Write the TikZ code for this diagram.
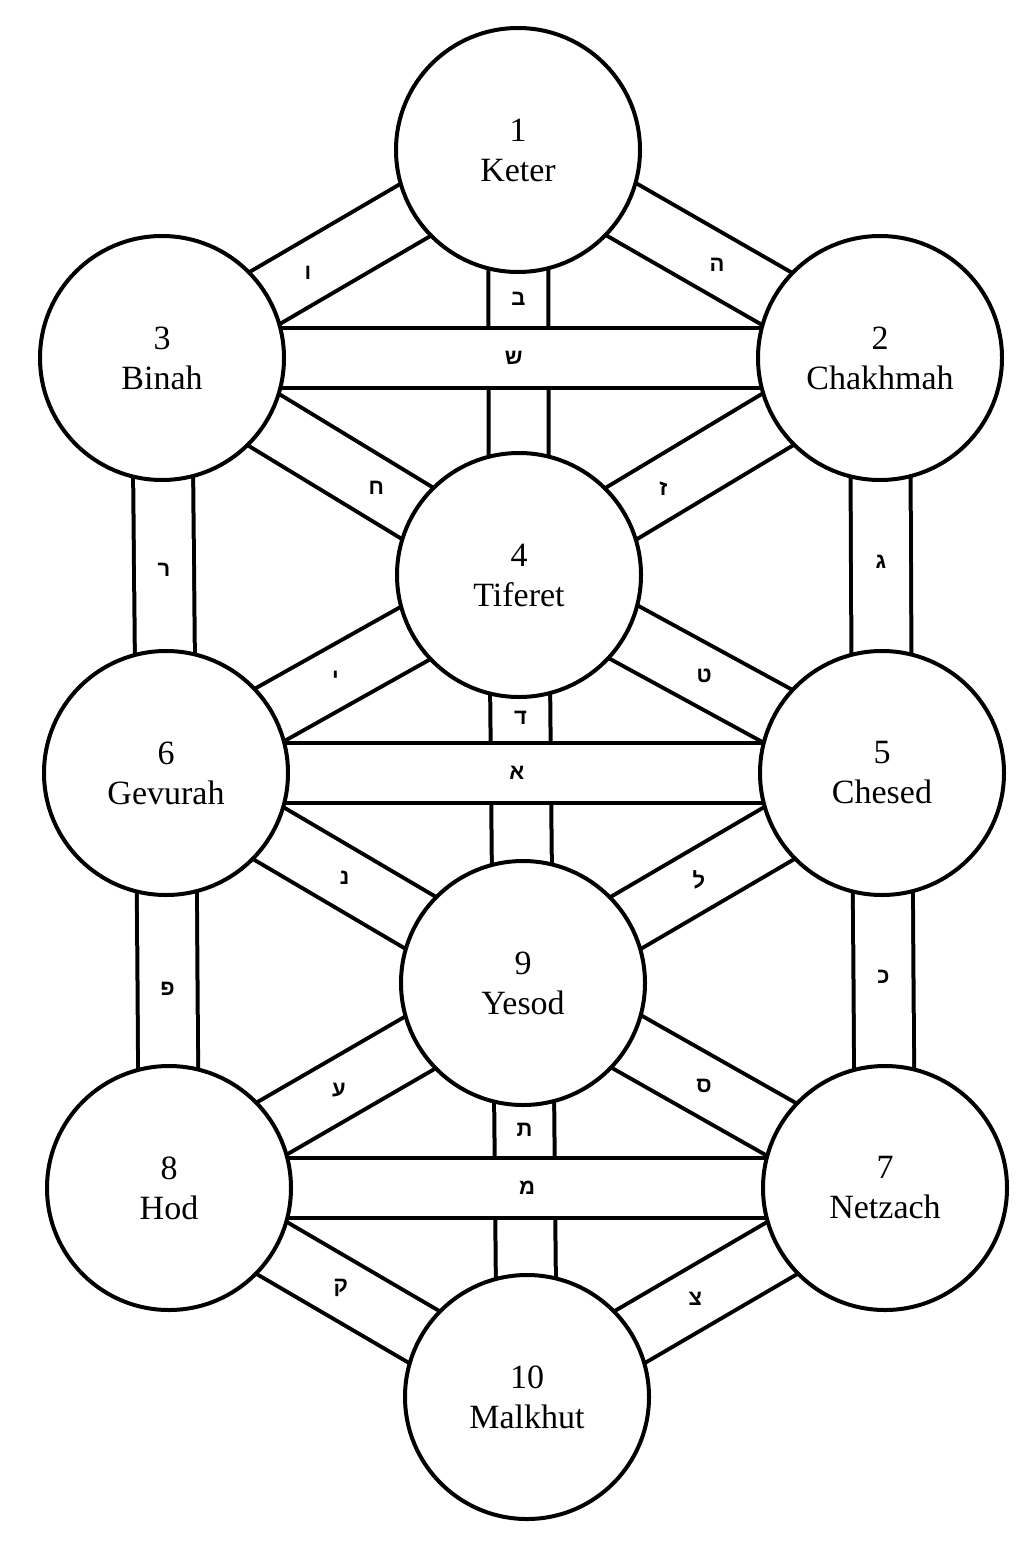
\documentclass[tikz,border=0pt]{standalone}
\usepackage{fontspec}
\setmainfont{Liberation Serif}
\newfontfamily\hebfont[Script=Hebrew]{Liberation Sans}
\TeXXeTstate=1
\usetikzlibrary{backgrounds}
\newcommand{\heb}[1]{\hebfont\bfseries\beginR #1\endR}
\begin{document}
\begin{tikzpicture}[x=1pt,y=-1pt,
    sefirah/.style={circle,draw,line width=4pt,fill=white,minimum size=244pt,inner sep=0pt,
      align=center,font=\fontsize{34}{40}\selectfont},
    band/.style={draw=black,line width=4pt,double=white,double distance=56pt},
    letter/.style={inner sep=0pt,font=\fontsize{22}{24}\selectfont}]
\useasboundingbox (0,0) rectangle (1035,1541);
% the ten sefirot
\node[sefirah] (keter) at (518,150) {1\\Keter};
\node[sefirah] (chakhmah) at (880,358) {2\\Chakhmah};
\node[sefirah] (binah) at (162,358) {3\\Binah};
\node[sefirah] (tiferet) at (519,575) {4\\Tiferet};
\node[sefirah] (chesed) at (882,773) {5\\Chesed};
\node[sefirah] (gevurah) at (166,773) {6\\Gevurah};
\node[sefirah] (netzach) at (885,1188) {7\\Netzach};
\node[sefirah] (hod) at (169,1188) {8\\Hod};
\node[sefirah] (yesod) at (523,983) {9\\Yesod};
\node[sefirah] (malkhut) at (527,1397) {10\\Malkhut};
% the 22 paths, behind the circles
\begin{scope}[on background layer]
  % twelve simple letters (diagonals)
  \draw[band] (binah.center) -- node[letter,pos=0.41] (he-vav) {\heb{ו}} (keter.center);
  \draw[band] (keter.center) -- node[letter,pos=0.55] (he-he) {\heb{ה}} (chakhmah.center);
  \draw[band] (binah.center) -- node[letter,pos=0.6] (he-chet) {\heb{ח}} (tiferet.center);
  \draw[band] (chakhmah.center) -- node[letter,pos=0.6] (he-zayin) {\heb{ז}} (tiferet.center);
  \draw[band] (gevurah.center) -- node[letter,pos=0.48] (he-yod) {\heb{י}} (tiferet.center);
  \draw[band] (chesed.center) -- node[letter,pos=0.49] (he-tet) {\heb{ט}} (tiferet.center);
  \draw[band] (gevurah.center) -- node[letter,pos=0.5] (he-nun) {\heb{נ}} (yesod.center);
  \draw[band] (chesed.center) -- node[letter,pos=0.51] (he-lamed) {\heb{ל}} (yesod.center);
  \draw[band] (hod.center) -- node[letter,pos=0.48] (he-ayin) {\heb{ע}} (yesod.center);
  \draw[band] (netzach.center) -- node[letter,pos=0.5] (he-samekh) {\heb{ס}} (yesod.center);
  \draw[band] (hod.center) -- node[letter,pos=0.48] (he-qof) {\heb{ק}} (malkhut.center);
  \draw[band] (netzach.center) -- node[letter,pos=0.53] (he-tsadi) {\heb{צ}} (malkhut.center);
  % seven double letters (verticals)
  \draw[band] (keter.center) -- node[letter,pos=0.35] (he-bet) {\heb{ב}} (tiferet.center);
  \draw[band] (chakhmah.center) -- node[letter,pos=0.49] (he-gimel) {\heb{ג}} (chesed.center);
  \draw[band] (tiferet.center) -- node[letter,pos=0.35] (he-dalet) {\heb{ד}} (yesod.center);
  \draw[band] (chesed.center) -- node[letter,pos=0.49] (he-kaf) {\heb{כ}} (netzach.center);
  \draw[band] (gevurah.center) -- node[letter,pos=0.52] (he-pe) {\heb{פ}} (hod.center);
  \draw[band] (binah.center) -- node[letter,pos=0.51] (he-resh) {\heb{ר}} (gevurah.center);
  \draw[band] (yesod.center) -- node[letter,pos=0.355] (he-tav) {\heb{ת}} (malkhut.center);
  % three mother letters (horizontals, on top)
  \draw[band] (binah.center) -- node[letter,pos=0.49] (he-shin) {\heb{ש}} (chakhmah.center);
  \draw[band] (gevurah.center) -- node[letter,pos=0.49] (he-alef) {\heb{א}} (chesed.center);
  \draw[band] (hod.center) -- node[letter,pos=0.5] (he-mem) {\heb{מ}} (netzach.center);
\end{scope}
\end{tikzpicture}
\end{document}
